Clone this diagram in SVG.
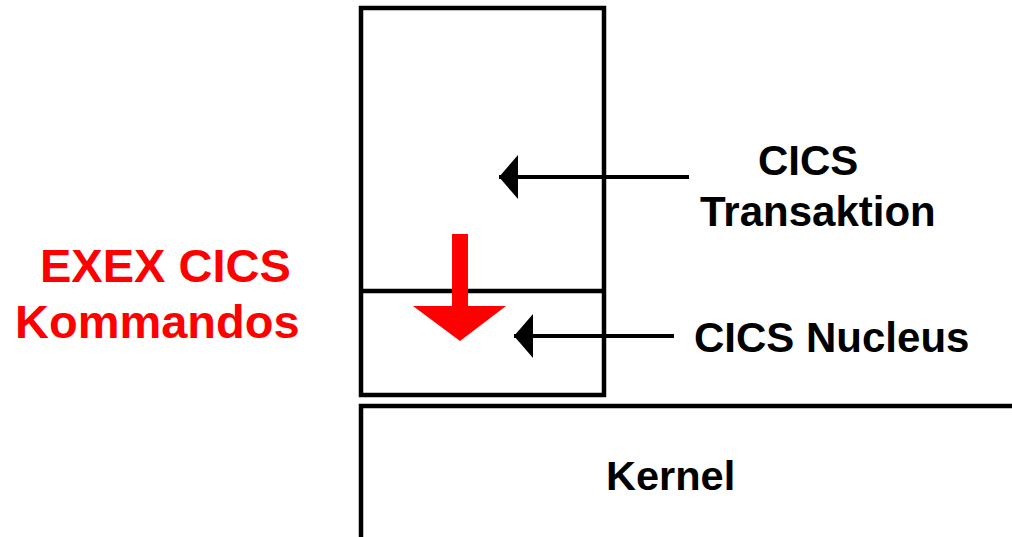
<svg xmlns="http://www.w3.org/2000/svg" width="1012" height="537" viewBox="0 0 1012 537">
<style>
.t{font-family:"Liberation Sans",Arial,sans-serif;font-weight:bold;fill:#000}
.r{font-family:"Liberation Sans",Arial,sans-serif;font-weight:bold;fill:#ff0000;font-size:47px}
.box{fill:none;stroke:#000;stroke-width:4.5}
.ln{stroke:#000;stroke-width:4;fill:none}
</style>
<defs>
<marker id="ah" viewBox="0 0 19 44" refX="19" refY="22" markerWidth="19" markerHeight="44" markerUnits="userSpaceOnUse" orient="auto">
<path d="M0,0 L19,22 L0,44 Z" fill="#000"/>
</marker>
</defs>
<rect width="1012" height="537" fill="#fff"/>
<g id="transaktion-box">
<rect class="box" x="361" y="8" width="243" height="387"/>
</g>
<g id="nucleus-box">
<line class="box" x1="361" y1="291" x2="604" y2="291"/>
</g>
<g id="kernel">
<path class="box" d="M361,537 L361,406 L1012,406"/>
<text class="t" x="606" y="490" font-size="41.5">Kernel</text>
</g>
<g id="labels">
<text class="t" x="758" y="175" font-size="42">CICS</text>
<text class="t" x="700" y="226" font-size="42">Transaktion</text>
<text class="t" x="694" y="352" font-size="42">CICS Nucleus</text>
<text class="r" x="40" y="282">EXEX CICS</text>
<text class="r" x="15" y="338">Kommandos</text>
</g>
<g id="connectors">
<line class="ln" x1="689" y1="177" x2="499" y2="177" marker-end="url(#ah)"/>
<line class="ln" x1="674" y1="336" x2="514" y2="336" marker-end="url(#ah)"/>
<path d="M452,234 L468,234 L468,306 L506,306 L460,341 L413,306 L452,306 Z" fill="#ff0000"/>
</g>
</svg>
